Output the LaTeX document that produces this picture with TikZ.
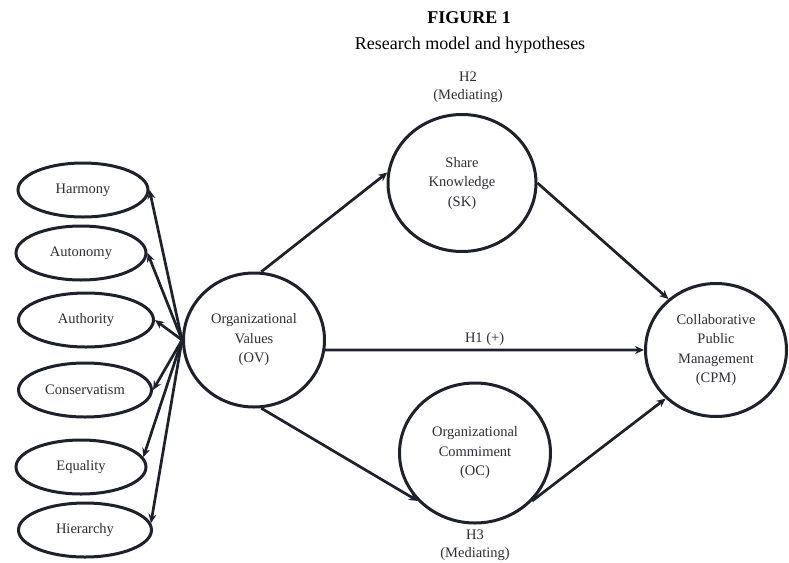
\documentclass[tikz,border=0pt]{standalone}
\usepackage{fontspec}
\setmainfont{Liberation Serif}
\usetikzlibrary{shapes.geometric,arrows.meta}
\definecolor{inkline}{RGB}{28,33,44}
\definecolor{inktext}{RGB}{45,45,52}

\begin{document}
\begin{tikzpicture}[x=1pt,y=-1pt,
	value/.style={draw=inkline, line width=3pt, ellipse, inner sep=0pt, minimum width=130pt, minimum height=54pt, text=inktext, font=\fontsize{14.5}{19}\selectfont},
	latent/.style={draw=inkline, line width=3pt, ellipse, inner sep=0pt, align=center, text=inktext, font=\fontsize{14.5}{19.5}\selectfont},
	effect/.style={draw=inkline, line width=2.7pt, -{Stealth[length=9pt,width=8pt]}},
	hyp/.style={align=center, inner sep=0pt, text=inktext, font=\fontsize{14.5}{18}\selectfont}]
				\useasboundingbox (0,0) rectangle (789,562);
				
				% title
				\node[font=\fontsize{18}{20}\selectfont\bfseries] (title) at (469,18) {FIGURE 1};
				\node[font=\fontsize{18}{20}\selectfont] (subtitle) at (470,45) {Research model and hypotheses};
				
				% value dimensions
				\node[value] (harmony) at (83,190) {Harmony};
				\node[value] (autonomy) at (81,253) {Autonomy};
				\node[value, minimum width=135pt] (authority) at (86,320) {Authority};
				\node[value, minimum width=133pt] (conservatism) at (85,390) {Conservatism};
				\node[value] (equality) at (81,467) {Equality};
				\node[value, minimum width=133pt] (hierarchy) at (85,530) {Hierarchy};
				
				% constructs
				\node[latent, minimum width=141pt, minimum height=134pt] (OV) at (254,340) {Organizational\\Values\\(OV)};
				\node[latent, minimum width=148pt, minimum height=137pt] (SK) at (462,183) {\raisebox{7pt}{\begin{tabular}{@{}c@{}}Share\\Knowledge\\(SK)\end{tabular}}};
				\node[latent, minimum width=151pt, minimum height=140pt] (OC) at (475,453) {Organizational\\Commiment\\(OC)};
				\node[latent, minimum width=141pt, minimum height=133pt] (CPM) at (716,350) {Collaborative\\Public\\Management\\(CPM)};
				
				% hypotheses
				\node[hyp] (h2) at (468,87) {H2\\(Mediating)};
				\node[hyp] (h3) at (475,545) {H3\\(Mediating)};
				
				% arrows to the dimensions
				\draw[effect] (OV.west) -- (harmony.east);
				\draw[effect] (OV.west) -- (autonomy.east);
				\draw[effect] (OV.west) -- (authority.east);
				\draw[effect] (OV.west) -- (conservatism.east);
				\draw[effect] (OV.west) -- (equality.9);
				\draw[effect] (OV.west) -- (hierarchy.6);
				
				% paths between constructs
				\draw[effect] (OV.84) -- (SK.172);
				\draw[effect] (OV.-84) -- (OC.220);
				\draw[effect] (OV.-8) -- node[hyp, above=3pt] (h1) {H1 (+)} (CPM.west);
				\draw[effect] (SK.east) -- (CPM.133);
				\draw[effect] (OC.-40) -- (CPM.224);
			\end{tikzpicture}
\end{document}
